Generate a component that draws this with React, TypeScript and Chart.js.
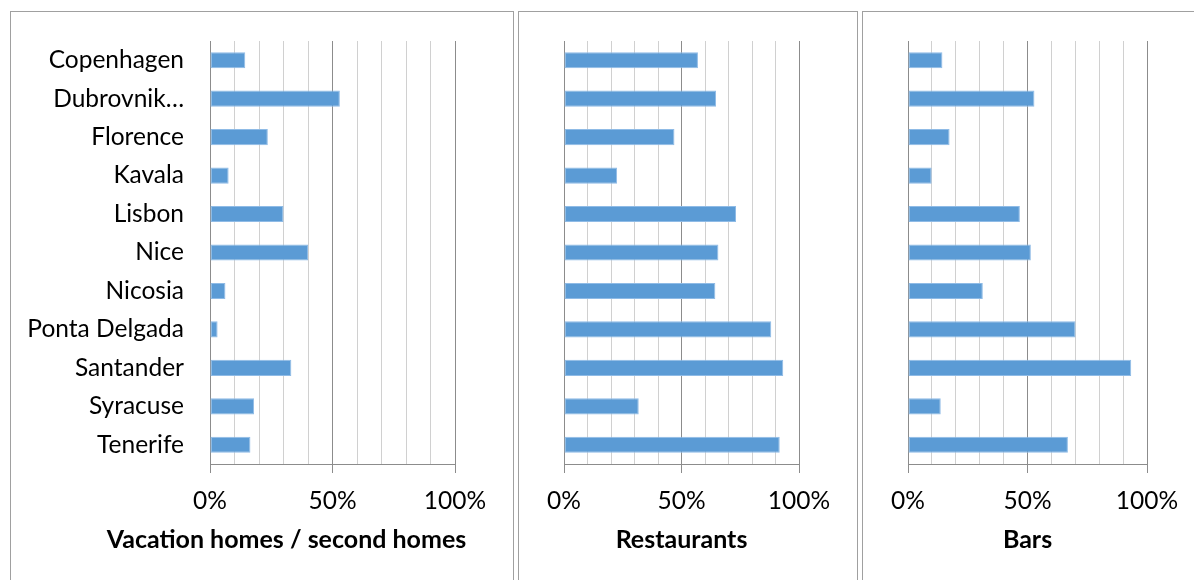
import React, { useEffect, useRef } from "react";
import { Chart, registerables } from "chart.js";

Chart.register(...registerables);

const categories = [
  "Copenhagen",
  "Dubrovnik…",
  "Florence",
  "Kavala",
  "Lisbon",
  "Nice",
  "Nicosia",
  "Ponta Delgada",
  "Santander",
  "Syracuse",
  "Tenerife",
];

const vacationHomes = [14.4, 53, 23.6, 7.6, 30, 40, 6.3, 3.1, 33.2, 18, 16.5];
const restaurants = [57, 64.7, 47, 22.6, 73.2, 65.7, 64.4, 88.2, 93.3, 31.8, 91.8];
const barsValues = [14.4, 52.9, 17.4, 9.9, 46.8, 51.4, 31.3, 70.1, 93.4, 13.7, 66.9];

const panelTitles = ["Vacation homes / second homes", "Restaurants", "Bars"];
const tickLabels = [0, 50, 100];

const FONT = "Lato, 'Open Sans', sans-serif";
const FONT_SIZE = 24.5;
const TITLE_SIZE = 25;
const BAR_COLOR = "#5b9bd5";
const MAJOR = "#8c8c8c";
const MINOR = "#d0d0d0";

type PanelProps = {
  values: number[];
  title: string;
  titleShift: number;
  showLabels: boolean;
  box: { left: number; width: number };
  yWidth: number;
  padRight: number;
};

function Panel({ values, title, titleShift, showLabels, box, yWidth, padRight }: PanelProps) {
  const ref = useRef<HTMLCanvasElement | null>(null);
  useEffect(() => {
    if (!ref.current) return;
    const titlePlugin = {
      id: "panelTitle",
      afterDraw(chart: any) {
        const { ctx, chartArea } = chart;
        ctx.save();
        ctx.font = `bold ${TITLE_SIZE}px ${FONT}`;
        ctx.fillStyle = "#000";
        ctx.textAlign = "center";
        ctx.textBaseline = "middle";
        ctx.fillText(title, (chartArea.left + chartArea.right) / 2 + titleShift, chartArea.bottom + 76);
        ctx.restore();
      },
    };
    const chart = new Chart(ref.current, {
      type: "bar",
      data: {
        labels: categories,
        datasets: [
          {
            data: values,
            backgroundColor: BAR_COLOR,
            borderColor: "#8fbbe6",
            borderWidth: 1,
            borderSkipped: false,
            barPercentage: 0.42,
            categoryPercentage: 1,
          },
        ],
      },
      plugins: [titlePlugin],
      options: {
        indexAxis: "y",
        animation: false,
        responsive: false,
        maintainAspectRatio: false,
        layout: { padding: { top: 29, right: padRight, left: 0, bottom: 0 } },
        plugins: { legend: { display: false }, tooltip: { enabled: false } },
        scales: {
          y: {
            afterFit: (s: any) => {
              s.width = yWidth;
              s.paddingTop = 0;
              s.paddingBottom = 0;
            },
            grid: { display: false, drawTicks: false },
            border: { display: true, color: MAJOR, width: 1 },
            ticks: {
              display: showLabels,
              padding: 26,
              color: "#000",
              font: { family: FONT, size: FONT_SIZE },
            },
          },
          x: {
            min: 0,
            max: 100,
            afterFit: (s: any) => {
              s.height = 116;
              s.paddingLeft = 0;
              s.paddingRight = 0;
            },
            border: { display: true, color: MAJOR, width: 1 },
            grid: {
              color: (ctx: any) => (ctx.tick && ctx.tick.value % 50 === 0 ? MAJOR : MINOR),
              tickColor: (ctx: any) =>
                ctx.tick && ctx.tick.value % 50 === 0 ? MAJOR : "rgba(0,0,0,0)",
              tickLength: 9,
              lineWidth: 1,
            },
            ticks: {
              stepSize: 10,
              autoSkip: false,
              maxRotation: 0,
              padding: 13,
              color: "#000",
              font: { family: FONT, size: FONT_SIZE },
              callback: (v: any) => (tickLabels.includes(Number(v)) ? `${v}%` : ""),
            },
            title: { display: false },
          },
        },
      },
    });
    return () => chart.destroy();
  }, []);
  return (
    <>
      <div
        style={{
          position: "fixed",
          left: box.left,
          top: 11,
          width: box.width + 2,
          height: 620,
          border: "1px solid #a0a0a0",
          boxSizing: "border-box",
          background: "#fff",
        }}
      />
      <canvas
        ref={ref}
        width={box.width}
        height={568}
        style={{ position: "fixed", left: box.left + 1, top: 12, width: box.width, height: 568 }}
      />
    </>
  );
}

export default function App() {
  return (
    <div style={{ width: 1194, height: 580, background: "#fff" }}>
      <Panel values={vacationHomes} title={panelTitles[0]} titleShift={-46} showLabels={true} box={{ left: 10, width: 502 }} yWidth={199} padRight={58} />
      <Panel values={restaurants} title={panelTitles[1]} titleShift={0} showLabels={false} box={{ left: 518, width: 338 }} yWidth={45} padRight={58} />
      <Panel values={barsValues} title={panelTitles[2]} titleShift={0} showLabels={false} box={{ left: 862, width: 331 }} yWidth={45} padRight={47} />
    </div>
  );
}
